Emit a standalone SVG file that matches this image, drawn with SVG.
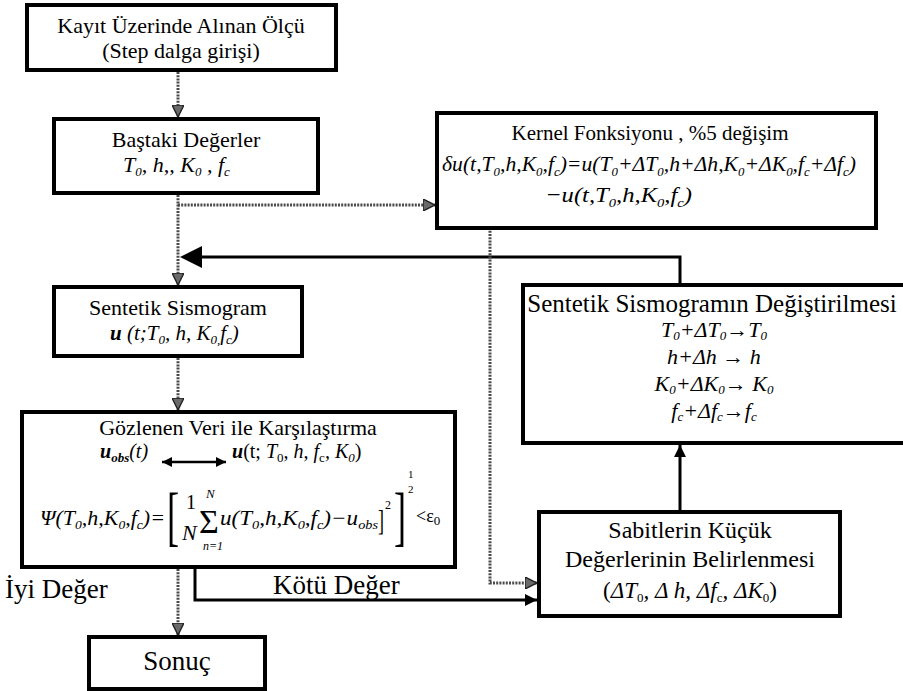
<svg xmlns="http://www.w3.org/2000/svg" width="903" height="691" viewBox="0 0 903 691" font-family="'Liberation Serif', 'Times New Roman', serif">
<style>
text{font-family:"Liberation Serif","Times New Roman",serif;fill:#000}
.c{text-anchor:middle}
.i{font-style:italic}
.sb{font-size:13px}
.box{fill:#fff;stroke:#000;stroke-width:4}
.dot{fill:none;stroke:#4a4a4a;stroke-width:3;stroke-dasharray:2 1.2}
.sol{fill:none;stroke:#000;stroke-width:3}
</style>
<defs>
<marker id="ah" viewBox="0 0 10 10" refX="10" refY="5" markerWidth="12" markerHeight="12" markerUnits="userSpaceOnUse" orient="auto">
<path d="M0,0 L10,5 L0,10 z" fill="#6a6a6a" stroke="#222" stroke-width="1.2"/>
</marker>
<marker id="fs" viewBox="0 0 10 10" refX="10" refY="5" markerWidth="14" markerHeight="12" markerUnits="userSpaceOnUse" orient="auto">
<path d="M0,0 L10,5 L0,10 z" fill="#000"/>
</marker>
<marker id="fd" viewBox="0 0 10 10" refX="10" refY="5" markerWidth="12" markerHeight="10" markerUnits="userSpaceOnUse" orient="auto-start-reverse">
<path d="M0,0 L10,5 L0,10 z" fill="#000"/>
</marker>
</defs>

<g id="connectors">
<path class="dot" d="M178,72 V117" marker-end="url(#ah)"/>
<path class="dot" d="M178,195 V285" marker-end="url(#ah)"/>
<path class="dot" d="M178,205 H435" marker-end="url(#ah)"/>
<path class="sol" d="M680,285 V257 H202"/>
<path d="M202,246 L180,257 L202,268 z" fill="#000"/>
<path class="dot" d="M178,358 V410" marker-end="url(#ah)"/>
<path class="dot" d="M178,569 V635" marker-end="url(#ah)"/>
<path class="sol" d="M195,569 V600 H537" marker-end="url(#fs)"/>
<path class="dot" d="M490,218 V583 H537" marker-end="url(#ah)"/>
<path class="sol" d="M680,510 V445" marker-end="url(#fs)"/>
<text x="5" y="598" font-size="27">İyi Değer</text>
<text x="273" y="594" font-size="27">Kötü Değer</text>
</g>

<g id="n-top">
<rect class="box" x="27" y="5" width="309" height="65"/>
<text class="c" x="181" y="33" font-size="22">Kayıt Üzerinde Alınan Ölçü</text>
<text class="c" x="181" y="58" font-size="22">(Step dalga girişi)</text>
</g>

<g id="n-initial">
<rect class="box" x="54" y="119" width="264" height="74"/>
<text class="c" x="186" y="147" font-size="22">Baştaki Değerler</text>
<text class="i" x="123" y="172" font-size="22">T<tspan class="sb" dy="4">0</tspan><tspan dy="-4">, h,, K</tspan><tspan class="sb" dy="4">0</tspan><tspan dy="-4"> , f</tspan><tspan class="sb" dy="4">c</tspan></text>
</g>

<g id="n-kernel">
<rect class="box" x="437" y="113" width="439" height="115"/>
<text class="c" x="650" y="140" font-size="21">Kernel Fonksiyonu , %5 değişim</text>
<text class="i" x="442" y="171" font-size="22" textLength="414" lengthAdjust="spacingAndGlyphs">δu(t,T<tspan class="sb" dy="5">0</tspan><tspan dy="-5">,h,K</tspan><tspan class="sb" dy="5">0</tspan><tspan dy="-5">,f</tspan><tspan class="sb" dy="5">c</tspan><tspan dy="-5">)=u(T</tspan><tspan class="sb" dy="5">0</tspan><tspan dy="-5">+ΔT</tspan><tspan class="sb" dy="5">0</tspan><tspan dy="-5">,h+Δh,K</tspan><tspan class="sb" dy="5">0</tspan><tspan dy="-5">+ΔK</tspan><tspan class="sb" dy="5">0</tspan><tspan dy="-5">,f</tspan><tspan class="sb" dy="5">c</tspan><tspan dy="-5">+Δf</tspan><tspan class="sb" dy="5">c</tspan><tspan dy="-5">)</tspan></text>
<text class="i" x="545" y="202" font-size="22" textLength="147" lengthAdjust="spacingAndGlyphs">−u(t,T<tspan class="sb" dy="5">0</tspan><tspan dy="-5">,h,K</tspan><tspan class="sb" dy="5">0</tspan><tspan dy="-5">,f</tspan><tspan class="sb" dy="5">c</tspan><tspan dy="-5">)</tspan></text>
</g>

<g id="n-synth">
<rect class="box" x="54" y="287" width="248" height="69"/>
<text class="c" x="178" y="315" font-size="22">Sentetik Sismogram</text>
<text class="i" x="110" y="340" font-size="21"><tspan font-weight="bold">u</tspan> (t;T<tspan class="sb" dy="4">0</tspan><tspan dy="-4">, h, K</tspan><tspan class="sb" dy="4">0,</tspan><tspan dy="-4">f</tspan><tspan class="sb" dy="4">c</tspan><tspan dy="-4">)</tspan></text>
</g>

<g id="n-compare">
<rect class="box" x="22" y="412" width="433" height="155"/>
<text class="c" x="238" y="435" font-size="22">Gözlenen Veri ile Karşılaştırma</text>
<text class="i" x="100" y="458" font-size="20"><tspan font-weight="bold">u</tspan><tspan class="sb" dy="4" font-weight="bold">obs</tspan><tspan dy="-4">(t)</tspan></text>
<path d="M162,462 H226" stroke="#000" stroke-width="2.5" marker-start="url(#fd)" marker-end="url(#fd)"/>
<text x="232" y="458" font-size="20"><tspan class="i" font-weight="bold">u</tspan>(t; <tspan class="i">T</tspan><tspan class="sb" dy="4">0</tspan><tspan dy="-4" class="i">, h, f</tspan><tspan class="sb" dy="4">c</tspan><tspan dy="-4" class="i">, K</tspan><tspan class="sb i" dy="4">0</tspan><tspan dy="-4">)</tspan></text>
<text class="i" x="40" y="525" font-size="21" textLength="125" lengthAdjust="spacingAndGlyphs">Ψ(T<tspan class="sb" dy="4">0</tspan><tspan dy="-4">,h,K</tspan><tspan class="sb" dy="4">0</tspan><tspan dy="-4">,f</tspan><tspan class="sb" dy="4">c</tspan><tspan dy="-4">)=</tspan></text>
<text font-size="66" transform="translate(167,538) scale(0.55,1)">[</text>
<text x="186" y="509" font-size="20">1</text>
<text class="i" x="182" y="540" font-size="22">N</text>
<text x="199" y="533" font-size="34">Σ</text>
<text class="i" x="206" y="498" font-size="13">N</text>
<text class="i" x="203" y="550" font-size="12">n=1</text>
<text class="i" x="220" y="525" font-size="21" textLength="158" lengthAdjust="spacingAndGlyphs">u(T<tspan class="sb" dy="4">0</tspan><tspan dy="-4">,h,K</tspan><tspan class="sb" dy="4">0</tspan><tspan dy="-4">,f</tspan><tspan class="sb" dy="4">c</tspan><tspan dy="-4">)−u</tspan><tspan class="sb" dy="4">obs</tspan></text>
<text font-size="30" transform="translate(378,530) scale(0.6,1)">]</text>
<text x="385" y="509" font-size="12">2</text>
<text font-size="66" transform="translate(394,538) scale(0.55,1)">]</text>
<text x="408" y="478" font-size="11">1</text>
<text x="408" y="493" font-size="11">2</text>
<text x="416" y="522" font-size="18">&lt;ε<tspan class="sb" dy="3">0</tspan></text>
</g>

<g id="n-result">
<rect class="box" x="89" y="637" width="176" height="52" stroke-width="3.5"/>
<text class="c" x="177" y="670" font-size="27">Sonuç</text>
</g>

<g id="n-modify">
<rect class="box" x="523" y="285" width="395" height="158"/>
<text class="c" x="712" y="312" font-size="25">Sentetik Sismogramın Değiştirilmesi</text>
<text class="c i" x="714" y="337" font-size="22">T<tspan class="sb" dy="3">0</tspan><tspan dy="-3">+ΔT</tspan><tspan class="sb" dy="3">0</tspan><tspan dy="-3">→T</tspan><tspan class="sb" dy="3">0</tspan></text>
<text class="c i" x="714" y="364" font-size="22">h+Δh → h</text>
<text class="c i" x="714" y="391" font-size="22">K<tspan class="sb" dy="3">0</tspan><tspan dy="-3">+ΔK</tspan><tspan class="sb" dy="3">0</tspan><tspan dy="-3">→ K</tspan><tspan class="sb" dy="3">0</tspan></text>
<text class="c i" x="714" y="418" font-size="22">f<tspan class="sb" dy="3">c</tspan><tspan dy="-3">+Δf</tspan><tspan class="sb" dy="3">c</tspan><tspan dy="-3">→f</tspan><tspan class="sb" dy="3">c</tspan></text>
</g>

<g id="n-small">
<rect class="box" x="539" y="512" width="301" height="104"/>
<text class="c" x="690" y="538" font-size="24">Sabitlerin Küçük</text>
<text class="c" x="690" y="567" font-size="24">Değerlerinin Belirlenmesi</text>
<text class="c" x="690" y="598" font-size="23">(<tspan class="i">ΔT</tspan><tspan class="sb" dy="4">0</tspan><tspan dy="-4" class="i">, Δ h, Δf</tspan><tspan class="sb" dy="4">c</tspan><tspan dy="-4" class="i">, ΔK</tspan><tspan class="sb" dy="4">0</tspan><tspan dy="-4">)</tspan></text>
</g>
</svg>
